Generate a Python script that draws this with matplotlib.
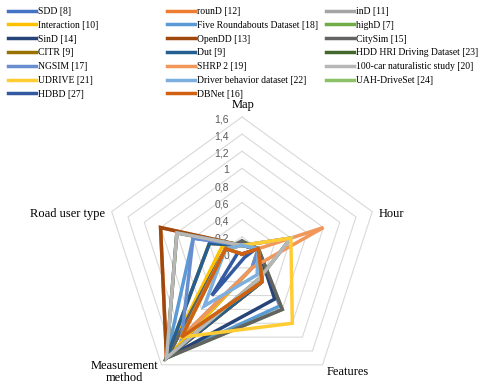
import numpy as np
import matplotlib
matplotlib.use("Agg")
import matplotlib.pyplot as plt
from matplotlib.lines import Line2D

categories = ["Map", "Hour", "Features", "Measurement\nmethod", "Road user type"]

series_names = [
    "SDD [8]", "rounD [12]", "inD [11]",
    "Interaction [10]", "Five Roundabouts Dataset [18]", "highD [7]",
    "SinD [14]", "OpenDD [13]", "CitySim [15]",
    "CITR [9]", "Dut [9]", "HDD HRI Driving Dataset [23]",
    "NGSIM [17]", "SHRP 2 [19]", "100-car naturalistic study [20]",
    "UDRIVE [21]", "Driver behavior dataset [22]", "UAH-DriveSet [24]",
    "HDBD [27]", "DBNet [16]",
]
series_colors = [
    "#4472c4", "#ed7d31", "#a5a5a5", "#ffc000", "#5b9bd5", "#70ad47",
    "#264478", "#9e480e", "#636363", "#997300", "#255e91", "#43682b",
    "#698ed0", "#f1975a", "#b7b7b7", "#ffcd33", "#7cafdd", "#8cc168",
    "#335aa1", "#d26012",
]

map_vals         = [0.1, 0.1, 0.1, 0.1, 0.1, 0.15, 0.1, 0.1, 0.15, 0.1, 0.1, 0.1, 0.1, 0.0, 0.1, 0.1, 0.1, 0.0, 0.0, 0.0]
hour_vals        = [0.2, 0.2, 0.2, 0.2, 0.2, 0.2, 0.2, 0.2, 0.2, 0.2, 0.2, 0.6, 0.2, 1.0, 0.6, 0.6, 0.2, 0.2, 0.15, 0.2]
features_vals    = [0.2, 0.4, 0.4, 0.2, 0.75, 0.8, 0.65, 0.4, 0.8, 0.4, 0.4, 0.35, 0.2, 0.2, 0.35, 1.0, 0.3, 0.4, 0.05, 0.4]
measurement_vals = [1.5, 1.5, 1.5, 1.5, 1.5, 1.5, 1.5, 1.5, 1.5, 1.5, 1.5, 1.5, 1.2, 1.2, 1.5, 1.2, 0.75, 1.2, 0.6, 1.2]
road_user_vals   = [0.2, 1.0, 0.8, 0.25, 0.6, 0.2, 0.2, 1.0, 0.2, 0.4, 0.4, 0.8, 0.6, 0.2, 0.8, 0.2, 0.2, 0.2, 0.05, 0.2]

radial_ticks = [0, 0.2, 0.4, 0.6, 0.8, 1.0, 1.2, 1.4, 1.6]
radial_tick_labels = ["0", "0,2", "0,4", "0,6", "0,8", "1", "1,2", "1,4", "1,6"]

W, H = 480, 387
fig = plt.figure(figsize=(W / 100, H / 100), dpi=100)
cx, cy, R = 242, 254, 137
ax = fig.add_axes([(cx - R) / W, (H - cy - R) / H, 2 * R / W, 2 * R / H], projection="polar")
ax.set_theta_zero_location("N")
ax.set_theta_direction(-1)
ax.set_ylim(0, 1.6)
ax.grid(False)
ax.spines["polar"].set_visible(False)
ax.set_xticks([])
ax.set_yticks([])
ax.patch.set_alpha(0)

theta = np.linspace(0, 2 * np.pi, len(categories), endpoint=False)
closed = np.append(theta, theta[0])

for r in radial_ticks[1:]:
    ax.plot(closed, [r] * len(closed), color="#d9d9d9", lw=0.8, zorder=1, clip_on=False)

for i, name in enumerate(series_names):
    vals = [map_vals[i], hour_vals[i], features_vals[i], measurement_vals[i], road_user_vals[i]]
    vals = vals + [vals[0]]
    ax.plot(closed, vals, color=series_colors[i], lw=2.5, zorder=2 + i, clip_on=False,
            solid_joinstyle="miter")

tick_font = dict(family="Liberation Sans", size=7.5, color="#595959")
for r, lab in zip(radial_ticks, radial_tick_labels):
    ax.annotate(lab, xy=(0, r), xytext=(-13, -2), textcoords="offset pixels",
                ha="right", va="center", annotation_clip=False, **tick_font)

cat_font = dict(family="Liberation Serif", size=9, color="#000000")
cat_offsets = [(1, 12), (6, -2), (4, -7), (-37, -7), (-7, -2)]
cat_ha = ["center", "left", "left", "center", "right"]
for t, lab, off, ha in zip(theta, categories, cat_offsets, cat_ha):
    ax.annotate(lab, xy=(t, 1.6), xytext=off, textcoords="offset pixels",
                ha=ha, va="center", multialignment="center", annotation_clip=False,
                linespacing=0.95, **cat_font)

handles = [Line2D([], [], color=c, lw=2.5) for c in series_colors]
ncol = 3
col_x = [8, 167, 326]
for c in range(ncol):
    idx = list(range(c, len(series_names), ncol))
    fig.legend([handles[k] for k in idx], [series_names[k] for k in idx],
               loc="upper left", bbox_to_anchor=(col_x[c] / W, (H - 7) / H),
               frameon=False, borderpad=0, borderaxespad=0,
               handlelength=2.9, handletextpad=0.2, labelspacing=0.5,
               prop=dict(family="Liberation Serif", size=6.9))

fig.savefig("out.png", dpi=100)
